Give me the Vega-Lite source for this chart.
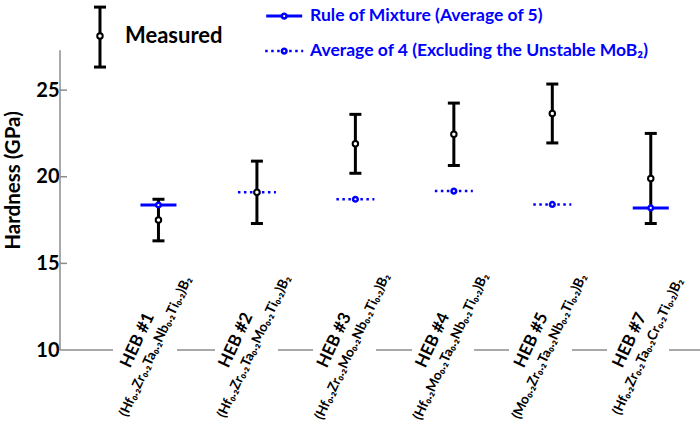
{
  "$schema": "https://vega.github.io/schema/vega-lite/v6.json",
  "width": 640,
  "height": 350,
  "autosize": {"type": "none"},
  "padding": {"left": 60, "top": 0, "right": 0, "bottom": 74},
  "background": "white",
  "config": {
    "view": {"stroke": null},
    "font": "Lato",
    "axisY": {
      "domain": false,
      "grid": false,
      "ticks": false,
      "labelFontSize": 20,
      "labelFontWeight": "bold",
      "labelColor": "black",
      "labelPadding": 1,
      "titleFontSize": 20.5,
      "titleFontWeight": "bold",
      "titleColor": "black"
    }
  },
  "datasets": {
    "measured": [
      {"idx": 1, "name": "HEB #1", "formula": "(Hf₀.₂Zr₀.₂Ta₀.₂Nb₀.₂Ti₀.₂)B₂", "hardness": 17.5, "lower": 16.3, "upper": 18.7},
      {"idx": 2, "name": "HEB #2", "formula": "(Hf₀.₂Zr₀.₂Ta₀.₂Mo₀.₂Ti₀.₂)B₂", "hardness": 19.1, "lower": 17.3, "upper": 20.9},
      {"idx": 3, "name": "HEB #3", "formula": "(Hf₀.₂Zr₀.₂Mo₀.₂Nb₀.₂Ti₀.₂)B₂", "hardness": 21.9, "lower": 20.2, "upper": 23.6},
      {"idx": 4, "name": "HEB #4", "formula": "(Hf₀.₂Mo₀.₂Ta₀.₂Nb₀.₂Ti₀.₂)B₂", "hardness": 22.45, "lower": 20.65, "upper": 24.25},
      {"idx": 5, "name": "HEB #5", "formula": "(Mo₀.₂Zr₀.₂Ta₀.₂Nb₀.₂Ti₀.₂)B₂", "hardness": 23.65, "lower": 21.95, "upper": 25.35},
      {"idx": 6, "name": "HEB #7", "formula": "(Hf₀.₂Zr₀.₂Ta₀.₂Cr₀.₂Ti₀.₂)B₂", "hardness": 19.9, "lower": 17.3, "upper": 22.5},
      {"idx": 0.406, "name": "", "formula": "", "hardness": 28.12, "lower": 26.33, "upper": 29.79}
    ],
    "model": [
      {"idx": 1, "series": "rom", "value": 18.37},
      {"idx": 6, "series": "rom", "value": 18.2},
      {"idx": 2, "series": "avg4", "value": 19.1},
      {"idx": 3, "series": "avg4", "value": 18.7},
      {"idx": 4, "series": "avg4", "value": 19.17},
      {"idx": 5, "series": "avg4", "value": 18.4},
      {"idx": 2.277, "series": "rom", "value": 29.27},
      {"idx": 2.277, "series": "avg4", "value": 27.25}
    ],
    "legendText": [
      {"x": 0.66, "y": 28.1, "kind": "measured", "label": "Measured"},
      {"x": 2.54, "y": 29.27, "kind": "model", "label": "Rule of Mixture (Average of 5)"},
      {"x": 2.54, "y": 27.25, "kind": "model", "label": "Average of 4 (Excluding the Unstable MoB₂)"}
    ],
    "xAxisLine": [
      {"from": 0, "to": 0.538},
      {"from": 1.188, "to": 1.574},
      {"from": 2.214, "to": 2.57},
      {"from": 3.209, "to": 3.575},
      {"from": 4.205, "to": 4.56},
      {"from": 5.2, "to": 5.556},
      {"from": 6.185, "to": 6.5}
    ],
    "yTicks": [{"v": 15}, {"v": 20}, {"v": 25}]
  },
  "layer": [
    {
      "data": {"name": "measured"},
      "mark": {"type": "rule", "color": "black", "strokeWidth": 3},
      "encoding": {
        "x": {"field": "idx", "type": "quantitative", "scale": {"domain": [0, 6.5], "nice": false, "zero": false}, "axis": null},
        "y": {"field": "lower", "type": "quantitative", "scale": {"domain": [10, 30.2], "nice": false, "zero": false},
              "axis": {"title": "Hardness (GPa)", "values": [10, 15, 20, 25], "titleX": -47, "titleY": 180, "titleAngle": -90, "titleBaseline": "middle", "titleAlign": "center"}},
        "y2": {"field": "upper"}
      }
    },
    {
      "data": {"name": "xAxisLine"},
      "mark": {"type": "rule", "color": "#8c8c8c", "strokeWidth": 1.5},
      "encoding": {
        "x": {"field": "from", "type": "quantitative", "axis": null},
        "x2": {"field": "to"},
        "y": {"datum": 10, "type": "quantitative"}
      }
    },
    {
      "data": {"values": [{}]},
      "mark": {"type": "rule", "color": "#8c8c8c", "strokeWidth": 1.5},
      "encoding": {
        "x": {"datum": 0, "type": "quantitative", "axis": null},
        "y": {"datum": 10, "type": "quantitative"},
        "y2": {"datum": 27.3}
      }
    },
    {
      "data": {"name": "yTicks"},
      "mark": {"type": "rule", "color": "#8c8c8c", "strokeWidth": 1.5, "x2Offset": 7},
      "encoding": {
        "x": {"datum": 0, "type": "quantitative", "axis": null},
        "x2": {"datum": 0},
        "y": {"field": "v", "type": "quantitative"}
      }
    },
    {
      "data": {"name": "measured"},
      "mark": {"type": "rule", "color": "black", "strokeWidth": 3, "xOffset": -6, "x2Offset": 6},
      "encoding": {
        "x": {"field": "idx", "type": "quantitative", "axis": null},
        "x2": {"field": "idx"},
        "y": {"field": "upper", "type": "quantitative"}
      }
    },
    {
      "data": {"name": "measured"},
      "mark": {"type": "rule", "color": "black", "strokeWidth": 3, "xOffset": -6, "x2Offset": 6},
      "encoding": {
        "x": {"field": "idx", "type": "quantitative", "axis": null},
        "x2": {"field": "idx"},
        "y": {"field": "lower", "type": "quantitative"}
      }
    },
    {
      "data": {"name": "model"},
      "transform": [{"filter": "datum.series === 'rom'"}],
      "mark": {"type": "rule", "color": "#0000ff", "strokeWidth": 3, "xOffset": -18, "x2Offset": 18},
      "encoding": {
        "x": {"field": "idx", "type": "quantitative", "axis": null},
        "x2": {"field": "idx"},
        "y": {"field": "value", "type": "quantitative"}
      }
    },
    {
      "data": {"name": "model"},
      "transform": [{"filter": "datum.series === 'avg4'"}],
      "mark": {"type": "rule", "color": "#0000ff", "strokeWidth": 2.5, "strokeDash": [2.5, 3.5], "xOffset": -19, "x2Offset": 19},
      "encoding": {
        "x": {"field": "idx", "type": "quantitative", "axis": null},
        "x2": {"field": "idx"},
        "y": {"field": "value", "type": "quantitative"}
      }
    },
    {
      "data": {"name": "model"},
      "mark": {"type": "point", "shape": "circle", "filled": true, "fill": "white", "stroke": "#0000ff", "strokeWidth": 2.5, "size": 22, "opacity": 1},
      "encoding": {
        "x": {"field": "idx", "type": "quantitative", "axis": null},
        "y": {"field": "value", "type": "quantitative"}
      }
    },
    {
      "data": {"name": "measured"},
      "mark": {"type": "point", "shape": "circle", "filled": true, "fill": "white", "stroke": "black", "strokeWidth": 2, "size": 30, "opacity": 1},
      "encoding": {
        "x": {"field": "idx", "type": "quantitative", "axis": null},
        "y": {"field": "hardness", "type": "quantitative"}
      }
    },
    {
      "data": {"name": "measured"},
      "mark": {"type": "text", "angle": -65, "align": "center", "baseline": "middle", "dx": 2, "dy": -4, "fontSize": 13.5, "fontWeight": "bold", "color": "black"},
      "encoding": {
        "x": {"field": "idx", "type": "quantitative", "axis": null},
        "y": {"datum": 10, "type": "quantitative"},
        "text": {"field": "formula"}
      }
    },
    {
      "data": {"name": "measured"},
      "mark": {"type": "text", "angle": -65, "align": "center", "baseline": "middle", "dy": -23, "fontSize": 17, "fontWeight": "bold", "color": "black"},
      "encoding": {
        "x": {"field": "idx", "type": "quantitative", "axis": null},
        "y": {"datum": 10, "type": "quantitative"},
        "text": {"field": "name"}
      }
    },
    {
      "data": {"name": "legendText"},
      "transform": [{"filter": "datum.kind === 'measured'"}],
      "mark": {"type": "text", "align": "left", "baseline": "middle", "fontSize": 22, "fontWeight": "bold", "color": "black"},
      "encoding": {
        "x": {"field": "x", "type": "quantitative", "axis": null},
        "y": {"field": "y", "type": "quantitative"},
        "text": {"field": "label"}
      }
    },
    {
      "data": {"name": "legendText"},
      "transform": [{"filter": "datum.kind === 'model'"}],
      "mark": {"type": "text", "align": "left", "baseline": "middle", "fontSize": 17.5, "fontWeight": "bold", "color": "#0000ff"},
      "encoding": {
        "x": {"field": "x", "type": "quantitative", "axis": null},
        "y": {"field": "y", "type": "quantitative"},
        "text": {"field": "label"}
      }
    }
  ]
}
